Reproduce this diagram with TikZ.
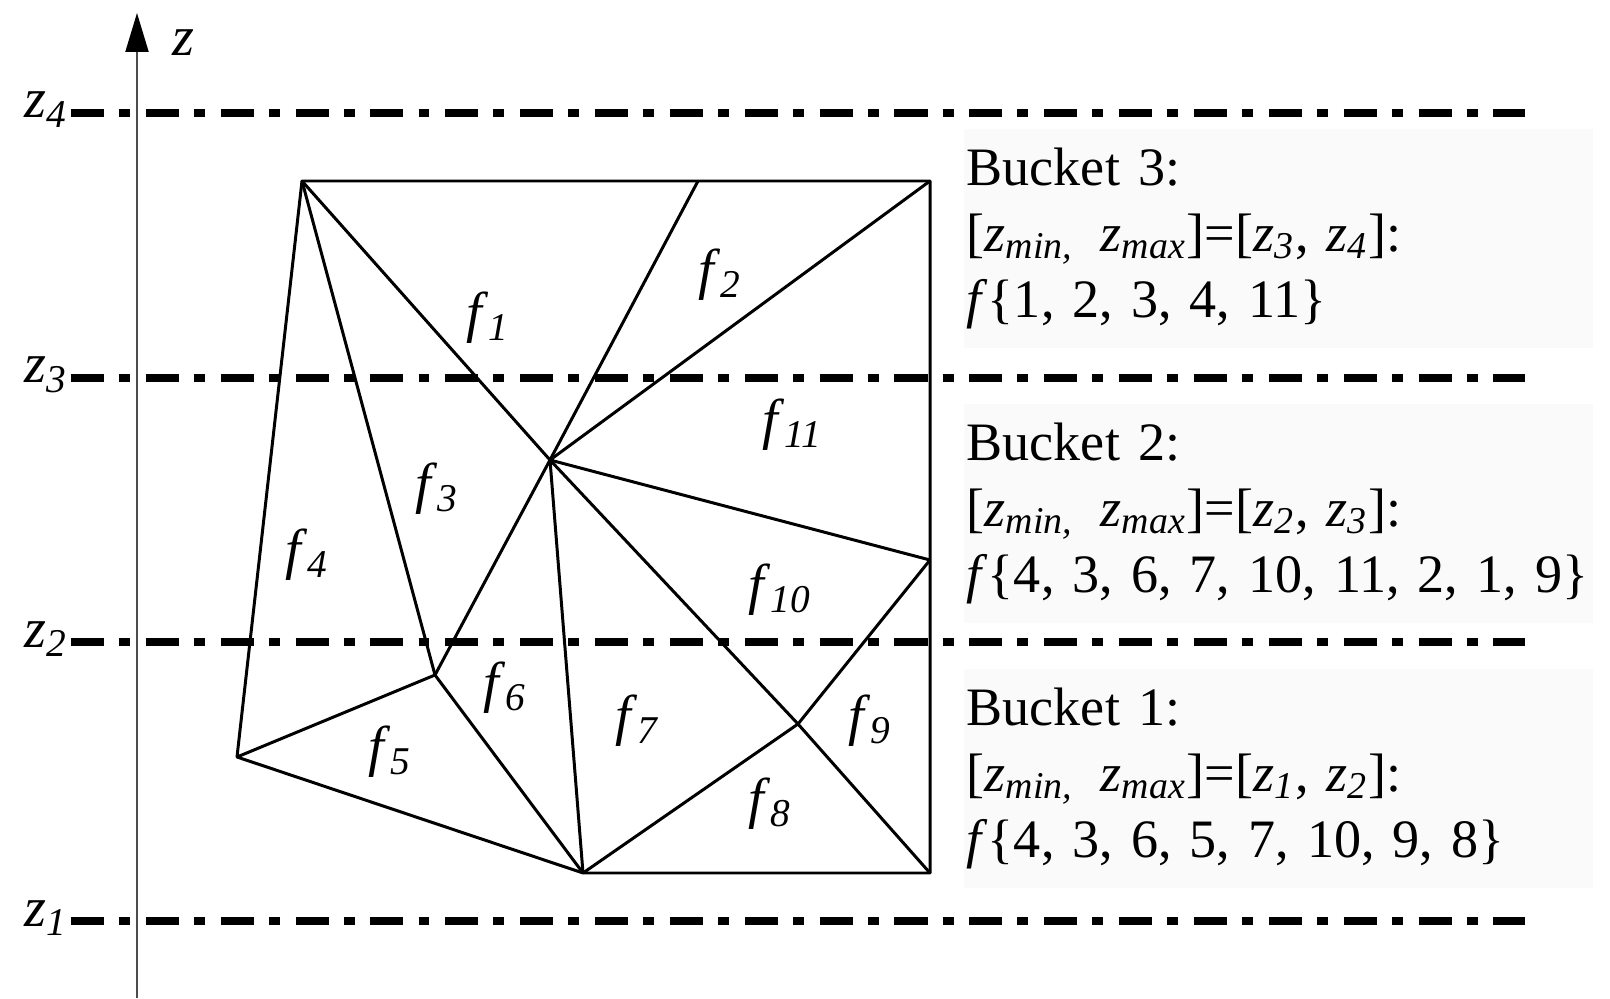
\documentclass[tikz,border=0pt]{standalone}
\usepackage{fontspec}
\setmainfont{Liberation Serif}
\newfontfamily\timesfont{Liberation Serif}
\usetikzlibrary{arrows.meta}

\newcommand{\zsub}[1]{\textit{z}\textsubscript{\textit{#1}}}
\newcommand{\fsub}[1]{\textit{f}\textsubscript{\textit{#1}}}

\begin{document}
\begin{tikzpicture}[
    font=\timesfont\fontsize{16}{18.8}\selectfont\frenchspacing,
    axisline/.style={line width=0.6pt, black!70},
    levelline/.style={line width=2pt, dash pattern=on 9.4pt off 4.3pt on 3.1pt off 4.5pt},
    mesh/.style={line width=0.85pt, line join=round},
    face/.style={inner sep=0pt},
    bucket/.style={anchor=north west, fill=black!2, minimum height=2.19cm,
        text width=6.23cm, inner xsep=0.03cm, inner ysep=0pt, align=left,
        font=\timesfont\fontsize{15.4}{18.8}\selectfont\frenchspacing}
]
    \useasboundingbox (0,0) rectangle (16.10,9.98);

    % z axis
    \coordinate (zbot) at (1.37,0);
    \coordinate (ztop) at (1.37,9.85);
    \draw[axisline, -{Triangle[length=0.39cm, width=0.23cm, color=black]}] (zbot) -- (ztop);
    \node (zlab) at (1.83,9.55) {\textit{z}};

    % bucket borders
    \coordinate (z4a) at (0.71,8.85);
    \coordinate (z4b) at (15.25,8.85);
    \coordinate (z3a) at (0.71,6.20);
    \coordinate (z3b) at (15.25,6.20);
    \coordinate (z2a) at (0.71,3.56);
    \coordinate (z2b) at (15.25,3.56);
    \coordinate (z1a) at (0.71,0.77);
    \coordinate (z1b) at (15.25,0.77);
    \draw[levelline] (z4a) -- (z4b);
    \draw[levelline] (z3a) -- (z3b);
    \draw[levelline] (z2a) -- (z2b);
    \draw[levelline] (z1a) -- (z1b);
    \node[anchor=base east, inner sep=0pt] (z4lab) at (0.69,8.80) {\zsub{4}};
    \node[anchor=base east, inner sep=0pt] (z3lab) at (0.69,6.15) {\zsub{3}};
    \node[anchor=base east, inner sep=0pt] (z2lab) at (0.69,3.51) {\zsub{2}};
    \node[anchor=base east, inner sep=0pt] (z1lab) at (0.69,0.72) {\zsub{1}};

    % mesh vertices
    \coordinate (A) at (3.02,8.17);
    \coordinate (B) at (6.98,8.17);
    \coordinate (C) at (9.30,8.17);
    \coordinate (D) at (5.50,5.38);
    \coordinate (E) at (9.30,4.38);
    \coordinate (F) at (4.35,3.23);
    \coordinate (G) at (2.37,2.41);
    \coordinate (H) at (5.83,1.25);
    \coordinate (I) at (7.98,2.74);
    \coordinate (J) at (9.30,1.25);

    \draw[mesh] (A) -- (C) -- (J) -- (H) -- (G) -- cycle;
    \draw[mesh] (A) -- (F) -- (H);
    \draw[mesh] (G) -- (F) -- (D);
    \draw[mesh] (A) -- (D) -- (B);
    \draw[mesh] (C) -- (D) -- (E);
    \draw[mesh] (D) -- (H);
    \draw[mesh] (D) -- (I) -- (J);
    \draw[mesh] (E) -- (I) -- (H);

    % faces
    \node[face] (f1) at (4.88,6.80) {\fsub{1}};
    \node[face] (f2) at (7.20,7.23) {\fsub{2}};
    \node[face] (f3) at (4.37,5.09) {\fsub{3}};
    \node[face] (f4) at (3.07,4.43) {\fsub{4}};
    \node[face] (f5) at (3.90,2.46) {\fsub{5}};
    \node[face] (f6) at (5.05,3.10) {\fsub{6}};
    \node[face] (f7) at (6.38,2.77) {\fsub{7}};
    \node[face] (f8) at (7.70,1.94) {\fsub{8}};
    \node[face] (f9) at (8.70,2.77) {\fsub{9}};
    \node[face] (f10) at (7.80,4.08) {\fsub{10}};
    \node[face] (f11) at (7.93,5.73) {\fsub{11}};

    % buckets
    \node[bucket] (bkt3) at (9.63,8.70) {Bucket 3:\\\mbox{[\zsub{min,}\ \,\zsub{max}]=[\zsub{3}, \zsub{4}]:}\\\mbox{\textit{f}\{1, 2, 3, 4, 11\}}};
    \node[bucket] (bkt2) at (9.63,5.95) {Bucket 2:\\\mbox{[\zsub{min,}\ \,\zsub{max}]=[\zsub{2}, \zsub{3}]:}\\\mbox{\textit{f}\{4, 3, 6, 7, 10, 11, 2, 1, 9\}}};
    \node[bucket] (bkt1) at (9.63,3.30) {Bucket 1:\\\mbox{[\zsub{min,}\ \,\zsub{max}]=[\zsub{1}, \zsub{2}]:}\\\mbox{\textit{f}\{4, 3, 6, 5, 7, 10, 9, 8\}}};
\end{tikzpicture}
\end{document}
